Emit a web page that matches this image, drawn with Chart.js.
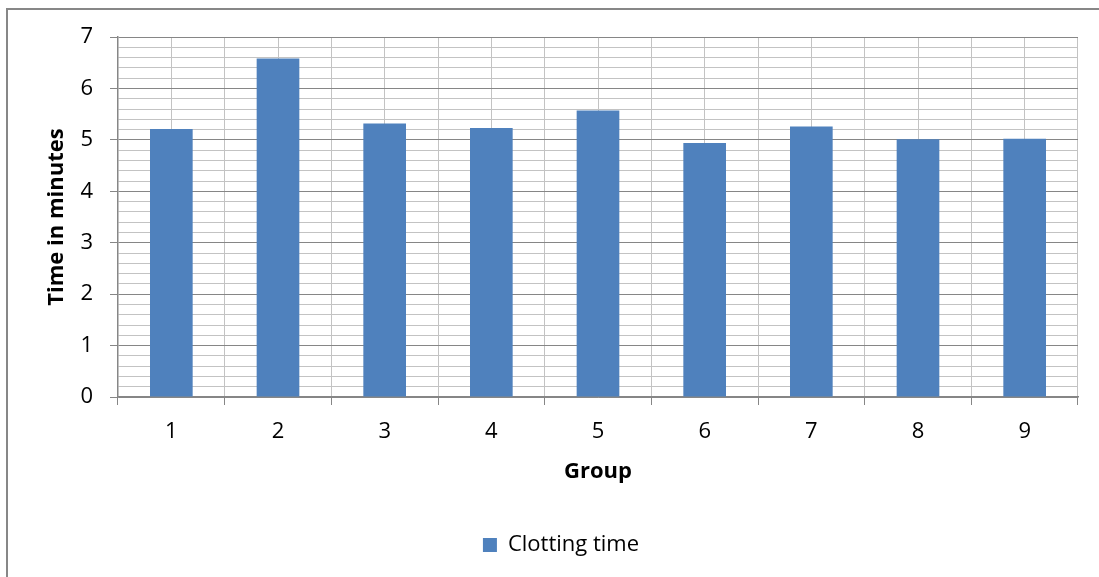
<!DOCTYPE html>
<html>
<head>
<meta charset="utf-8">
<script src="https://cdn.jsdelivr.net/npm/chart.js@4/dist/chart.umd.min.js"></script>
<style>
  html, body { margin: 0; padding: 0; background: #fff; }
  #wrap { position: relative; width: 1099px; height: 577px; overflow: hidden; }
  #frame { position: absolute; left: 6px; top: 8px; right: -10px; bottom: -10px;
           border-left: 2px solid #878787; border-top: 2px solid #878787; pointer-events: none; }
  canvas { position: absolute; left: 0; top: 0; }
</style>
</head>
<body>
<div id="wrap">
  <canvas id="c" width="1099" height="577"></canvas>
  <div id="frame"></div>
</div>
<script>
// Groups on the x axis
const groups = ['1', '2', '3', '4', '5', '6', '7', '8', '9'];
// Mean clotting time per group, minutes
const clottingTime = [5.21, 6.58, 5.32, 5.23, 5.57, 4.94, 5.26, 5.01, 5.02];
// Value axis range and gridline step
const yMin = 0;
const yMax = 7;
const yStep = 0.2;

const FONT = '"Open Sans", "Noto Sans", sans-serif';
const FS = 22;
const MAJOR = '#868686';
const MINOR = '#c3c3c3';
const isMajor = v => Math.abs(v - Math.round(v)) < 1e-6;

new Chart(document.getElementById('c'), {
  type: 'bar',
  data: {
    labels: groups,
    datasets: [{
      label: 'Clotting time',
      data: clottingTime,
      backgroundColor: '#4F81BD',
      borderWidth: 0,
      categoryPercentage: 0.4,
      barPercentage: 1.0
    }]
  },
  options: {
    responsive: false,
    animation: false,
    devicePixelRatio: 1,
    layout: { padding: { left: 44, right: 21, top: 37, bottom: 11 } },
    plugins: {
      tooltip: { enabled: false },
      legend: {
        position: 'bottom',
        labels: {
          boxWidth: 14, boxHeight: 14, padding: 10,
          color: '#000', font: { family: FONT, size: FS }
        }
      }
    },
    scales: {
      x: {
        offset: true,
        grid: { offset: true, color: MINOR, lineWidth: 1, tickLength: 8, tickColor: MAJOR, tickWidth: 1 },
        border: { display: true, color: MAJOR, width: 1.5 },
        ticks: { color: '#000', padding: 14, font: { family: FONT, size: FS }, maxRotation: 0 },
        title: { display: true, text: 'Group', color: '#000',
                 font: { family: FONT, size: FS, weight: 'bold' }, padding: { top: 0, bottom: 39 } },
        afterFit: s => { s.height = 127; }
      },
      xc: {
        type: 'category',
        position: 'bottom',
        offset: true,
        grid: { offset: false, color: MINOR, lineWidth: 1, drawTicks: false },
        border: { display: false },
        ticks: { display: false },
        afterFit: s => { s.height = 0; }
      },
      y: {
        min: yMin, max: yMax,
        grid: {
          color: c => isMajor(c.tick.value) ? MAJOR : MINOR,
          lineWidth: 1,
          tickLength: 8,
          tickColor: c => isMajor(c.tick.value) ? MAJOR : 'rgba(0,0,0,0)'
        },
        border: { display: true, color: MAJOR, width: 1.5 },
        ticks: {
          stepSize: yStep, autoSkip: false, maxTicksLimit: 100,
          color: '#000', padding: 17, font: { family: FONT, size: FS },
          callback: v => isMajor(v) ? String(Math.round(v)) : ''
        },
        title: { display: true, text: 'Time in minutes', color: '#000',
                 font: { family: FONT, size: FS, weight: 'bold' }, padding: { top: 0, bottom: 0 } },
        afterFit: s => { s.width = 74; }
      }
    }
  }
});
</script>
</body>
</html>
